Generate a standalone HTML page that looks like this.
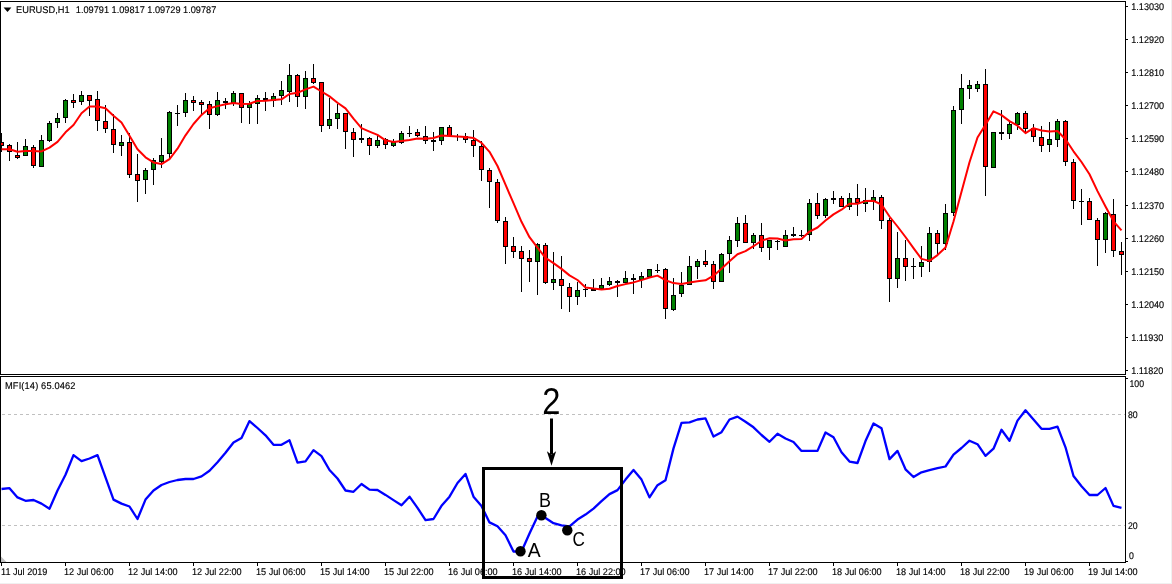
<!DOCTYPE html>
<html><head><meta charset="utf-8"><title>EURUSD H1 MFI</title>
<style>html,body{margin:0;padding:0;background:#fff;}body{width:1172px;height:584px;position:relative;overflow:hidden;}</style>
</head><body>
<svg width="1172" height="584" viewBox="0 0 1172 584" style="position:absolute;left:0;top:0">
<defs><clipPath id="c1"><rect x="1" y="2" width="1124" height="372"/></clipPath><clipPath id="c2"><rect x="1" y="377" width="1124" height="185"/></clipPath></defs>
<g shape-rendering="crispEdges">
<rect x="1171" y="0" width="1" height="584" fill="#f0f0f0"/>
<rect x="0" y="583" width="1172" height="1" fill="#f0f0f0"/>
<line x1="2" y1="414.5" x2="1125" y2="414.5" stroke="#c0c0c0" stroke-width="1" stroke-dasharray="3 3"/>
<line x1="2" y1="525.5" x2="1125" y2="525.5" stroke="#c0c0c0" stroke-width="1" stroke-dasharray="3 3"/>
<g clip-path="url(#c1)">
<rect x="1" y="133" width="1" height="19" fill="#000"/>
<rect x="-1" y="142" width="5" height="4" fill="#000"/>
<rect x="0" y="143" width="3" height="2" fill="#ff0000"/>
<rect x="9" y="144" width="1" height="17" fill="#000"/>
<rect x="7" y="145" width="5" height="7" fill="#000"/>
<rect x="8" y="146" width="3" height="5" fill="#ff0000"/>
<rect x="17" y="142" width="1" height="17" fill="#000"/>
<rect x="15" y="155" width="5" height="3" fill="#000"/>
<rect x="16" y="156" width="3" height="1" fill="#ff0000"/>
<rect x="25" y="139" width="1" height="17" fill="#000"/>
<rect x="23" y="146" width="5" height="10" fill="#000"/>
<rect x="24" y="147" width="3" height="8" fill="#008000"/>
<rect x="33" y="145" width="1" height="23" fill="#000"/>
<rect x="31" y="147" width="5" height="19" fill="#000"/>
<rect x="32" y="148" width="3" height="17" fill="#ff0000"/>
<rect x="41" y="135" width="1" height="32" fill="#000"/>
<rect x="39" y="140" width="5" height="27" fill="#000"/>
<rect x="40" y="141" width="3" height="25" fill="#008000"/>
<rect x="49" y="121" width="1" height="21" fill="#000"/>
<rect x="47" y="123" width="5" height="18" fill="#000"/>
<rect x="48" y="124" width="3" height="16" fill="#008000"/>
<rect x="57" y="113" width="1" height="15" fill="#000"/>
<rect x="55" y="118" width="5" height="5" fill="#000"/>
<rect x="56" y="119" width="3" height="3" fill="#008000"/>
<rect x="65" y="99" width="1" height="24" fill="#000"/>
<rect x="63" y="100" width="5" height="18" fill="#000"/>
<rect x="64" y="101" width="3" height="16" fill="#008000"/>
<rect x="73" y="94" width="1" height="14" fill="#000"/>
<rect x="71" y="100" width="5" height="3" fill="#000"/>
<rect x="72" y="101" width="3" height="1" fill="#ff0000"/>
<rect x="81" y="91" width="1" height="14" fill="#000"/>
<rect x="79" y="95" width="5" height="7" fill="#000"/>
<rect x="80" y="96" width="3" height="5" fill="#008000"/>
<rect x="89" y="95" width="1" height="21" fill="#000"/>
<rect x="87" y="95" width="5" height="6" fill="#000"/>
<rect x="88" y="96" width="3" height="4" fill="#ff0000"/>
<rect x="97" y="91" width="1" height="40" fill="#000"/>
<rect x="95" y="99" width="5" height="22" fill="#000"/>
<rect x="96" y="100" width="3" height="20" fill="#ff0000"/>
<rect x="105" y="105" width="1" height="28" fill="#000"/>
<rect x="103" y="121" width="5" height="8" fill="#000"/>
<rect x="104" y="122" width="3" height="6" fill="#ff0000"/>
<rect x="113" y="114" width="1" height="39" fill="#000"/>
<rect x="111" y="129" width="5" height="16" fill="#000"/>
<rect x="112" y="130" width="3" height="14" fill="#ff0000"/>
<rect x="121" y="135" width="1" height="21" fill="#000"/>
<rect x="119" y="142" width="5" height="4" fill="#000"/>
<rect x="120" y="143" width="3" height="2" fill="#008000"/>
<rect x="129" y="133" width="1" height="45" fill="#000"/>
<rect x="127" y="142" width="5" height="33" fill="#000"/>
<rect x="128" y="143" width="3" height="31" fill="#ff0000"/>
<rect x="137" y="154" width="1" height="48" fill="#000"/>
<rect x="135" y="174" width="5" height="7" fill="#000"/>
<rect x="136" y="175" width="3" height="5" fill="#ff0000"/>
<rect x="145" y="168" width="1" height="26" fill="#000"/>
<rect x="143" y="170" width="5" height="10" fill="#000"/>
<rect x="144" y="171" width="3" height="8" fill="#008000"/>
<rect x="153" y="158" width="1" height="27" fill="#000"/>
<rect x="151" y="160" width="5" height="10" fill="#000"/>
<rect x="152" y="161" width="3" height="8" fill="#008000"/>
<rect x="161" y="138" width="1" height="30" fill="#000"/>
<rect x="159" y="155" width="5" height="7" fill="#000"/>
<rect x="160" y="156" width="3" height="5" fill="#008000"/>
<rect x="169" y="111" width="1" height="47" fill="#000"/>
<rect x="167" y="112" width="5" height="42" fill="#000"/>
<rect x="168" y="113" width="3" height="40" fill="#008000"/>
<rect x="177" y="105" width="1" height="21" fill="#000"/>
<rect x="175" y="113" width="5" height="1" fill="#000"/>
<rect x="185" y="93" width="1" height="24" fill="#000"/>
<rect x="183" y="100" width="5" height="13" fill="#000"/>
<rect x="184" y="101" width="3" height="11" fill="#008000"/>
<rect x="193" y="96" width="1" height="15" fill="#000"/>
<rect x="191" y="100" width="5" height="3" fill="#000"/>
<rect x="192" y="101" width="3" height="1" fill="#ff0000"/>
<rect x="201" y="100" width="1" height="14" fill="#000"/>
<rect x="199" y="102" width="5" height="3" fill="#000"/>
<rect x="200" y="103" width="3" height="1" fill="#ff0000"/>
<rect x="209" y="101" width="1" height="28" fill="#000"/>
<rect x="207" y="104" width="5" height="11" fill="#000"/>
<rect x="208" y="105" width="3" height="9" fill="#ff0000"/>
<rect x="217" y="92" width="1" height="24" fill="#000"/>
<rect x="215" y="100" width="5" height="15" fill="#000"/>
<rect x="216" y="101" width="3" height="13" fill="#008000"/>
<rect x="225" y="98" width="1" height="11" fill="#000"/>
<rect x="223" y="101" width="5" height="2" fill="#000"/>
<rect x="233" y="91" width="1" height="15" fill="#000"/>
<rect x="231" y="93" width="5" height="10" fill="#000"/>
<rect x="232" y="94" width="3" height="8" fill="#008000"/>
<rect x="241" y="93" width="1" height="30" fill="#000"/>
<rect x="239" y="93" width="5" height="15" fill="#000"/>
<rect x="240" y="94" width="3" height="13" fill="#ff0000"/>
<rect x="249" y="101" width="1" height="23" fill="#000"/>
<rect x="247" y="104" width="5" height="4" fill="#000"/>
<rect x="248" y="105" width="3" height="2" fill="#008000"/>
<rect x="257" y="95" width="1" height="29" fill="#000"/>
<rect x="255" y="98" width="5" height="6" fill="#000"/>
<rect x="256" y="99" width="3" height="4" fill="#008000"/>
<rect x="265" y="92" width="1" height="19" fill="#000"/>
<rect x="263" y="98" width="5" height="2" fill="#000"/>
<rect x="273" y="93" width="1" height="14" fill="#000"/>
<rect x="271" y="96" width="5" height="5" fill="#000"/>
<rect x="272" y="97" width="3" height="3" fill="#008000"/>
<rect x="281" y="81" width="1" height="24" fill="#000"/>
<rect x="279" y="90" width="5" height="6" fill="#000"/>
<rect x="280" y="91" width="3" height="4" fill="#008000"/>
<rect x="289" y="64" width="1" height="38" fill="#000"/>
<rect x="287" y="75" width="5" height="17" fill="#000"/>
<rect x="288" y="76" width="3" height="15" fill="#008000"/>
<rect x="297" y="74" width="1" height="33" fill="#000"/>
<rect x="295" y="75" width="5" height="22" fill="#000"/>
<rect x="296" y="76" width="3" height="20" fill="#ff0000"/>
<rect x="305" y="71" width="1" height="38" fill="#000"/>
<rect x="303" y="78" width="5" height="19" fill="#000"/>
<rect x="304" y="79" width="3" height="17" fill="#008000"/>
<rect x="313" y="64" width="1" height="20" fill="#000"/>
<rect x="311" y="78" width="5" height="5" fill="#000"/>
<rect x="312" y="79" width="3" height="3" fill="#ff0000"/>
<rect x="321" y="82" width="1" height="50" fill="#000"/>
<rect x="319" y="82" width="5" height="44" fill="#000"/>
<rect x="320" y="83" width="3" height="42" fill="#ff0000"/>
<rect x="329" y="98" width="1" height="31" fill="#000"/>
<rect x="327" y="119" width="5" height="7" fill="#000"/>
<rect x="328" y="120" width="3" height="5" fill="#008000"/>
<rect x="337" y="104" width="1" height="25" fill="#000"/>
<rect x="335" y="113" width="5" height="6" fill="#000"/>
<rect x="336" y="114" width="3" height="4" fill="#008000"/>
<rect x="345" y="113" width="1" height="36" fill="#000"/>
<rect x="343" y="113" width="5" height="19" fill="#000"/>
<rect x="344" y="114" width="3" height="17" fill="#ff0000"/>
<rect x="353" y="128" width="1" height="29" fill="#000"/>
<rect x="351" y="132" width="5" height="8" fill="#000"/>
<rect x="352" y="133" width="3" height="6" fill="#ff0000"/>
<rect x="361" y="124" width="1" height="19" fill="#000"/>
<rect x="359" y="138" width="5" height="2" fill="#000"/>
<rect x="369" y="137" width="1" height="18" fill="#000"/>
<rect x="367" y="138" width="5" height="8" fill="#000"/>
<rect x="368" y="139" width="3" height="6" fill="#ff0000"/>
<rect x="377" y="136" width="1" height="12" fill="#000"/>
<rect x="375" y="140" width="5" height="6" fill="#000"/>
<rect x="376" y="141" width="3" height="4" fill="#008000"/>
<rect x="385" y="138" width="1" height="11" fill="#000"/>
<rect x="383" y="139" width="5" height="6" fill="#000"/>
<rect x="384" y="140" width="3" height="4" fill="#ff0000"/>
<rect x="393" y="139" width="1" height="8" fill="#000"/>
<rect x="391" y="142" width="5" height="4" fill="#000"/>
<rect x="392" y="143" width="3" height="2" fill="#008000"/>
<rect x="401" y="131" width="1" height="13" fill="#000"/>
<rect x="399" y="133" width="5" height="10" fill="#000"/>
<rect x="400" y="134" width="3" height="8" fill="#008000"/>
<rect x="409" y="126" width="1" height="11" fill="#000"/>
<rect x="407" y="133" width="5" height="1" fill="#000"/>
<rect x="417" y="129" width="1" height="8" fill="#000"/>
<rect x="415" y="132" width="5" height="4" fill="#000"/>
<rect x="416" y="133" width="3" height="2" fill="#ff0000"/>
<rect x="425" y="126" width="1" height="18" fill="#000"/>
<rect x="423" y="136" width="5" height="5" fill="#000"/>
<rect x="424" y="137" width="3" height="3" fill="#ff0000"/>
<rect x="433" y="132" width="1" height="19" fill="#000"/>
<rect x="431" y="140" width="5" height="2" fill="#000"/>
<rect x="441" y="127" width="1" height="18" fill="#000"/>
<rect x="439" y="127" width="5" height="14" fill="#000"/>
<rect x="440" y="128" width="3" height="12" fill="#008000"/>
<rect x="449" y="125" width="1" height="12" fill="#000"/>
<rect x="447" y="127" width="5" height="9" fill="#000"/>
<rect x="448" y="128" width="3" height="7" fill="#ff0000"/>
<rect x="457" y="134" width="1" height="7" fill="#000"/>
<rect x="455" y="136" width="5" height="1" fill="#000"/>
<rect x="465" y="133" width="1" height="10" fill="#000"/>
<rect x="463" y="136" width="5" height="4" fill="#000"/>
<rect x="464" y="137" width="3" height="2" fill="#ff0000"/>
<rect x="473" y="130" width="1" height="27" fill="#000"/>
<rect x="471" y="140" width="5" height="6" fill="#000"/>
<rect x="472" y="141" width="3" height="4" fill="#ff0000"/>
<rect x="481" y="141" width="1" height="40" fill="#000"/>
<rect x="479" y="146" width="5" height="24" fill="#000"/>
<rect x="480" y="147" width="3" height="22" fill="#ff0000"/>
<rect x="489" y="168" width="1" height="40" fill="#000"/>
<rect x="487" y="170" width="5" height="12" fill="#000"/>
<rect x="488" y="171" width="3" height="10" fill="#ff0000"/>
<rect x="497" y="179" width="1" height="44" fill="#000"/>
<rect x="495" y="182" width="5" height="39" fill="#000"/>
<rect x="496" y="183" width="3" height="37" fill="#ff0000"/>
<rect x="505" y="217" width="1" height="47" fill="#000"/>
<rect x="503" y="221" width="5" height="26" fill="#000"/>
<rect x="504" y="222" width="3" height="24" fill="#ff0000"/>
<rect x="513" y="237" width="1" height="21" fill="#000"/>
<rect x="511" y="246" width="5" height="6" fill="#000"/>
<rect x="512" y="247" width="3" height="4" fill="#ff0000"/>
<rect x="521" y="246" width="1" height="46" fill="#000"/>
<rect x="519" y="251" width="5" height="8" fill="#000"/>
<rect x="520" y="252" width="3" height="6" fill="#ff0000"/>
<rect x="529" y="250" width="1" height="32" fill="#000"/>
<rect x="527" y="258" width="5" height="4" fill="#000"/>
<rect x="528" y="259" width="3" height="2" fill="#ff0000"/>
<rect x="537" y="243" width="1" height="52" fill="#000"/>
<rect x="535" y="244" width="5" height="18" fill="#000"/>
<rect x="536" y="245" width="3" height="16" fill="#008000"/>
<rect x="545" y="243" width="1" height="41" fill="#000"/>
<rect x="543" y="245" width="5" height="38" fill="#000"/>
<rect x="544" y="246" width="3" height="36" fill="#ff0000"/>
<rect x="553" y="252" width="1" height="38" fill="#000"/>
<rect x="551" y="279" width="5" height="4" fill="#000"/>
<rect x="552" y="280" width="3" height="2" fill="#008000"/>
<rect x="561" y="256" width="1" height="53" fill="#000"/>
<rect x="559" y="279" width="5" height="7" fill="#000"/>
<rect x="560" y="280" width="3" height="5" fill="#ff0000"/>
<rect x="569" y="283" width="1" height="29" fill="#000"/>
<rect x="567" y="287" width="5" height="10" fill="#000"/>
<rect x="568" y="288" width="3" height="8" fill="#ff0000"/>
<rect x="577" y="282" width="1" height="23" fill="#000"/>
<rect x="575" y="290" width="5" height="7" fill="#000"/>
<rect x="576" y="291" width="3" height="5" fill="#008000"/>
<rect x="585" y="284" width="1" height="13" fill="#000"/>
<rect x="583" y="289" width="5" height="1" fill="#000"/>
<rect x="593" y="279" width="1" height="12" fill="#000"/>
<rect x="591" y="289" width="5" height="2" fill="#000"/>
<rect x="601" y="278" width="1" height="11" fill="#000"/>
<rect x="599" y="285" width="5" height="4" fill="#000"/>
<rect x="600" y="286" width="3" height="2" fill="#008000"/>
<rect x="609" y="277" width="1" height="9" fill="#000"/>
<rect x="607" y="281" width="5" height="4" fill="#000"/>
<rect x="608" y="282" width="3" height="2" fill="#008000"/>
<rect x="617" y="280" width="1" height="17" fill="#000"/>
<rect x="615" y="281" width="5" height="2" fill="#000"/>
<rect x="625" y="271" width="1" height="12" fill="#000"/>
<rect x="623" y="278" width="5" height="5" fill="#000"/>
<rect x="624" y="279" width="3" height="3" fill="#008000"/>
<rect x="633" y="274" width="1" height="20" fill="#000"/>
<rect x="631" y="278" width="5" height="2" fill="#000"/>
<rect x="641" y="272" width="1" height="16" fill="#000"/>
<rect x="639" y="276" width="5" height="4" fill="#000"/>
<rect x="640" y="277" width="3" height="2" fill="#008000"/>
<rect x="649" y="269" width="1" height="8" fill="#000"/>
<rect x="647" y="269" width="5" height="8" fill="#000"/>
<rect x="648" y="270" width="3" height="6" fill="#008000"/>
<rect x="657" y="264" width="1" height="9" fill="#000"/>
<rect x="655" y="270" width="5" height="1" fill="#000"/>
<rect x="665" y="268" width="1" height="51" fill="#000"/>
<rect x="663" y="269" width="5" height="40" fill="#000"/>
<rect x="664" y="270" width="3" height="38" fill="#ff0000"/>
<rect x="673" y="278" width="1" height="33" fill="#000"/>
<rect x="671" y="295" width="5" height="15" fill="#000"/>
<rect x="672" y="296" width="3" height="13" fill="#008000"/>
<rect x="681" y="272" width="1" height="25" fill="#000"/>
<rect x="679" y="285" width="5" height="9" fill="#000"/>
<rect x="680" y="286" width="3" height="7" fill="#008000"/>
<rect x="689" y="256" width="1" height="29" fill="#000"/>
<rect x="687" y="266" width="5" height="19" fill="#000"/>
<rect x="688" y="267" width="3" height="17" fill="#008000"/>
<rect x="697" y="259" width="1" height="20" fill="#000"/>
<rect x="695" y="261" width="5" height="6" fill="#000"/>
<rect x="696" y="262" width="3" height="4" fill="#008000"/>
<rect x="705" y="250" width="1" height="17" fill="#000"/>
<rect x="703" y="261" width="5" height="4" fill="#000"/>
<rect x="704" y="262" width="3" height="2" fill="#ff0000"/>
<rect x="713" y="261" width="1" height="28" fill="#000"/>
<rect x="711" y="264" width="5" height="18" fill="#000"/>
<rect x="712" y="265" width="3" height="16" fill="#ff0000"/>
<rect x="721" y="253" width="1" height="29" fill="#000"/>
<rect x="719" y="254" width="5" height="28" fill="#000"/>
<rect x="720" y="255" width="3" height="26" fill="#008000"/>
<rect x="729" y="236" width="1" height="37" fill="#000"/>
<rect x="727" y="240" width="5" height="14" fill="#000"/>
<rect x="728" y="241" width="3" height="12" fill="#008000"/>
<rect x="737" y="217" width="1" height="30" fill="#000"/>
<rect x="735" y="223" width="5" height="18" fill="#000"/>
<rect x="736" y="224" width="3" height="16" fill="#008000"/>
<rect x="745" y="215" width="1" height="28" fill="#000"/>
<rect x="743" y="223" width="5" height="20" fill="#000"/>
<rect x="744" y="224" width="3" height="18" fill="#ff0000"/>
<rect x="753" y="233" width="1" height="16" fill="#000"/>
<rect x="751" y="235" width="5" height="8" fill="#000"/>
<rect x="752" y="236" width="3" height="6" fill="#008000"/>
<rect x="761" y="223" width="1" height="29" fill="#000"/>
<rect x="759" y="235" width="5" height="13" fill="#000"/>
<rect x="760" y="236" width="3" height="11" fill="#ff0000"/>
<rect x="769" y="240" width="1" height="20" fill="#000"/>
<rect x="767" y="240" width="5" height="8" fill="#000"/>
<rect x="768" y="241" width="3" height="6" fill="#008000"/>
<rect x="777" y="240" width="1" height="10" fill="#000"/>
<rect x="775" y="241" width="5" height="1" fill="#000"/>
<rect x="785" y="230" width="1" height="17" fill="#000"/>
<rect x="783" y="235" width="5" height="12" fill="#000"/>
<rect x="784" y="236" width="3" height="10" fill="#008000"/>
<rect x="793" y="227" width="1" height="10" fill="#000"/>
<rect x="791" y="234" width="5" height="2" fill="#000"/>
<rect x="801" y="230" width="1" height="7" fill="#000"/>
<rect x="799" y="235" width="5" height="1" fill="#000"/>
<rect x="809" y="199" width="1" height="42" fill="#000"/>
<rect x="807" y="203" width="5" height="32" fill="#000"/>
<rect x="808" y="204" width="3" height="30" fill="#008000"/>
<rect x="817" y="193" width="1" height="26" fill="#000"/>
<rect x="815" y="203" width="5" height="13" fill="#000"/>
<rect x="816" y="204" width="3" height="11" fill="#ff0000"/>
<rect x="825" y="198" width="1" height="20" fill="#000"/>
<rect x="823" y="199" width="5" height="17" fill="#000"/>
<rect x="824" y="200" width="3" height="15" fill="#008000"/>
<rect x="833" y="191" width="1" height="13" fill="#000"/>
<rect x="831" y="198" width="5" height="2" fill="#000"/>
<rect x="841" y="196" width="1" height="11" fill="#000"/>
<rect x="839" y="198" width="5" height="9" fill="#000"/>
<rect x="840" y="199" width="3" height="7" fill="#ff0000"/>
<rect x="849" y="193" width="1" height="17" fill="#000"/>
<rect x="847" y="198" width="5" height="9" fill="#000"/>
<rect x="848" y="199" width="3" height="7" fill="#008000"/>
<rect x="857" y="184" width="1" height="32" fill="#000"/>
<rect x="855" y="198" width="5" height="5" fill="#000"/>
<rect x="856" y="199" width="3" height="3" fill="#ff0000"/>
<rect x="865" y="188" width="1" height="24" fill="#000"/>
<rect x="863" y="200" width="5" height="4" fill="#000"/>
<rect x="864" y="201" width="3" height="2" fill="#008000"/>
<rect x="873" y="190" width="1" height="20" fill="#000"/>
<rect x="871" y="197" width="5" height="4" fill="#000"/>
<rect x="872" y="198" width="3" height="2" fill="#008000"/>
<rect x="881" y="195" width="1" height="34" fill="#000"/>
<rect x="879" y="197" width="5" height="24" fill="#000"/>
<rect x="880" y="198" width="3" height="22" fill="#ff0000"/>
<rect x="889" y="218" width="1" height="84" fill="#000"/>
<rect x="887" y="220" width="5" height="59" fill="#000"/>
<rect x="888" y="221" width="3" height="57" fill="#ff0000"/>
<rect x="897" y="232" width="1" height="56" fill="#000"/>
<rect x="895" y="258" width="5" height="21" fill="#000"/>
<rect x="896" y="259" width="3" height="19" fill="#008000"/>
<rect x="905" y="240" width="1" height="41" fill="#000"/>
<rect x="903" y="258" width="5" height="9" fill="#000"/>
<rect x="904" y="259" width="3" height="7" fill="#ff0000"/>
<rect x="913" y="258" width="1" height="21" fill="#000"/>
<rect x="911" y="266" width="5" height="1" fill="#000"/>
<rect x="921" y="246" width="1" height="31" fill="#000"/>
<rect x="919" y="262" width="5" height="5" fill="#000"/>
<rect x="920" y="263" width="3" height="3" fill="#008000"/>
<rect x="929" y="227" width="1" height="45" fill="#000"/>
<rect x="927" y="233" width="5" height="29" fill="#000"/>
<rect x="928" y="234" width="3" height="27" fill="#008000"/>
<rect x="937" y="230" width="1" height="25" fill="#000"/>
<rect x="935" y="233" width="5" height="11" fill="#000"/>
<rect x="936" y="234" width="3" height="9" fill="#ff0000"/>
<rect x="945" y="204" width="1" height="46" fill="#000"/>
<rect x="943" y="213" width="5" height="31" fill="#000"/>
<rect x="944" y="214" width="3" height="29" fill="#008000"/>
<rect x="953" y="106" width="1" height="110" fill="#000"/>
<rect x="951" y="110" width="5" height="103" fill="#000"/>
<rect x="952" y="111" width="3" height="101" fill="#008000"/>
<rect x="961" y="74" width="1" height="50" fill="#000"/>
<rect x="959" y="88" width="5" height="22" fill="#000"/>
<rect x="960" y="89" width="3" height="20" fill="#008000"/>
<rect x="969" y="80" width="1" height="19" fill="#000"/>
<rect x="967" y="85" width="5" height="4" fill="#000"/>
<rect x="968" y="86" width="3" height="2" fill="#008000"/>
<rect x="977" y="81" width="1" height="11" fill="#000"/>
<rect x="975" y="84" width="5" height="5" fill="#000"/>
<rect x="976" y="85" width="3" height="3" fill="#008000"/>
<rect x="985" y="69" width="1" height="127" fill="#000"/>
<rect x="983" y="84" width="5" height="83" fill="#000"/>
<rect x="984" y="85" width="3" height="81" fill="#ff0000"/>
<rect x="993" y="132" width="1" height="36" fill="#000"/>
<rect x="991" y="132" width="5" height="36" fill="#000"/>
<rect x="992" y="133" width="3" height="34" fill="#008000"/>
<rect x="1001" y="110" width="1" height="30" fill="#000"/>
<rect x="999" y="132" width="5" height="2" fill="#000"/>
<rect x="1009" y="122" width="1" height="17" fill="#000"/>
<rect x="1007" y="124" width="5" height="10" fill="#000"/>
<rect x="1008" y="125" width="3" height="8" fill="#008000"/>
<rect x="1017" y="112" width="1" height="18" fill="#000"/>
<rect x="1015" y="113" width="5" height="12" fill="#000"/>
<rect x="1016" y="114" width="3" height="10" fill="#008000"/>
<rect x="1025" y="111" width="1" height="21" fill="#000"/>
<rect x="1023" y="113" width="5" height="16" fill="#000"/>
<rect x="1024" y="114" width="3" height="14" fill="#ff0000"/>
<rect x="1033" y="124" width="1" height="18" fill="#000"/>
<rect x="1031" y="128" width="5" height="9" fill="#000"/>
<rect x="1032" y="129" width="3" height="7" fill="#ff0000"/>
<rect x="1041" y="126" width="1" height="26" fill="#000"/>
<rect x="1039" y="137" width="5" height="9" fill="#000"/>
<rect x="1040" y="138" width="3" height="7" fill="#ff0000"/>
<rect x="1049" y="122" width="1" height="30" fill="#000"/>
<rect x="1047" y="139" width="5" height="6" fill="#000"/>
<rect x="1048" y="140" width="3" height="4" fill="#008000"/>
<rect x="1057" y="119" width="1" height="28" fill="#000"/>
<rect x="1055" y="121" width="5" height="19" fill="#000"/>
<rect x="1056" y="122" width="3" height="17" fill="#008000"/>
<rect x="1065" y="120" width="1" height="46" fill="#000"/>
<rect x="1063" y="121" width="5" height="41" fill="#000"/>
<rect x="1064" y="122" width="3" height="39" fill="#ff0000"/>
<rect x="1073" y="159" width="1" height="50" fill="#000"/>
<rect x="1071" y="162" width="5" height="39" fill="#000"/>
<rect x="1072" y="163" width="3" height="37" fill="#ff0000"/>
<rect x="1081" y="189" width="1" height="36" fill="#000"/>
<rect x="1079" y="201" width="5" height="1" fill="#000"/>
<rect x="1089" y="198" width="1" height="22" fill="#000"/>
<rect x="1087" y="201" width="5" height="19" fill="#000"/>
<rect x="1088" y="202" width="3" height="17" fill="#ff0000"/>
<rect x="1097" y="218" width="1" height="48" fill="#000"/>
<rect x="1095" y="220" width="5" height="20" fill="#000"/>
<rect x="1096" y="221" width="3" height="18" fill="#ff0000"/>
<rect x="1105" y="212" width="1" height="41" fill="#000"/>
<rect x="1103" y="213" width="5" height="27" fill="#000"/>
<rect x="1104" y="214" width="3" height="25" fill="#008000"/>
<rect x="1113" y="199" width="1" height="58" fill="#000"/>
<rect x="1111" y="214" width="5" height="37" fill="#000"/>
<rect x="1112" y="215" width="3" height="35" fill="#ff0000"/>
<rect x="1121" y="242" width="1" height="33" fill="#000"/>
<rect x="1119" y="251" width="5" height="4" fill="#000"/>
<rect x="1120" y="252" width="3" height="2" fill="#ff0000"/>
</g>
</g>
<polyline clip-path="url(#c1)" points="1.5,149.2 9.5,149.2 17.5,151.8 25.5,151.0 33.5,151.0 41.5,151.4 49.5,147.6 57.5,141.9 65.5,132.3 73.5,125.0 81.5,113.2 89.5,106.6 97.5,106.4 105.5,108.2 113.5,115.7 121.5,122.5 129.5,135.8 137.5,149.2 145.5,157.3 153.5,162.4 161.5,164.1 169.5,159.1 177.5,148.7 185.5,135.3 193.5,124.0 201.5,114.9 209.5,108.2 217.5,106.1 225.5,104.2 233.5,103.1 241.5,103.9 249.5,103.7 257.5,100.9 265.5,100.8 273.5,99.9 281.5,99.3 289.5,94.0 297.5,92.8 305.5,89.4 313.5,86.6 321.5,91.5 329.5,96.4 337.5,102.7 345.5,108.4 353.5,118.7 361.5,128.1 369.5,131.6 377.5,134.9 385.5,140.3 393.5,142.1 401.5,141.0 409.5,140.1 417.5,138.5 425.5,138.8 433.5,138.0 441.5,135.5 449.5,136.0 457.5,136.4 465.5,137.0 473.5,137.9 481.5,142.8 489.5,151.8 497.5,166.0 505.5,184.7 513.5,203.2 521.5,221.8 529.5,237.2 537.5,247.7 545.5,257.8 553.5,263.1 561.5,268.9 569.5,275.4 577.5,280.0 585.5,287.4 593.5,288.6 601.5,289.5 609.5,288.7 617.5,286.0 625.5,284.1 633.5,282.4 641.5,280.1 649.5,277.5 657.5,275.6 665.5,280.2 673.5,283.1 681.5,284.1 689.5,282.5 697.5,281.2 705.5,280.3 713.5,275.7 721.5,268.8 729.5,261.3 737.5,254.2 745.5,251.1 753.5,246.2 761.5,240.7 769.5,238.3 777.5,238.5 785.5,240.5 793.5,239.2 801.5,239.1 809.5,231.6 817.5,227.5 825.5,220.5 833.5,214.4 841.5,209.7 849.5,203.7 857.5,203.7 865.5,201.1 873.5,200.8 881.5,204.5 889.5,216.5 897.5,226.5 905.5,237.0 913.5,248.1 921.5,258.9 929.5,260.9 937.5,255.1 945.5,247.6 953.5,221.5 961.5,191.8 969.5,162.3 977.5,137.5 985.5,124.8 993.5,111.3 1001.5,115.1 1009.5,121.1 1017.5,125.7 1025.5,133.1 1033.5,128.1 1041.5,130.5 1049.5,131.5 1057.5,131.0 1065.5,139.2 1073.5,151.3 1081.5,162.0 1089.5,174.2 1097.5,191.1 1105.5,206.5 1113.5,221.3 1121.5,230.3" fill="none" stroke="#ff0000" stroke-width="2" stroke-linejoin="round"/>
<polyline clip-path="url(#c2)" points="1.5,489.0 9.5,488.2 17.5,497.4 25.5,500.8 33.5,500.0 41.5,503.6 49.5,508.7 57.5,490.5 65.5,474.8 73.5,455.1 81.5,461.1 89.5,458.5 97.5,455.1 105.5,477.4 113.5,499.6 121.5,503.6 129.5,506.5 137.5,519.0 145.5,499.6 153.5,490.5 161.5,485.0 169.5,482.0 177.5,480.0 185.5,479.0 193.5,479.0 201.5,476.4 209.5,470.8 217.5,462.2 225.5,452.8 233.5,442.5 241.5,437.9 249.5,421.1 257.5,428.0 265.5,435.3 273.5,444.8 281.5,444.8 289.5,440.3 297.5,462.7 305.5,461.4 313.5,450.2 321.5,456.2 329.5,470.0 337.5,478.5 345.5,490.5 353.5,491.8 361.5,484.0 369.5,489.6 377.5,490.0 385.5,494.9 393.5,500.1 401.5,505.2 409.5,496.7 417.5,507.8 425.5,520.1 433.5,519.0 441.5,505.8 449.5,496.7 457.5,483.0 465.5,473.9 473.5,496.7 481.5,506.1 489.5,522.4 497.5,526.3 505.5,535.2 513.5,551.5 521.5,551.5 529.5,533.5 537.5,516.4 545.5,518.0 553.5,523.2 561.5,525.3 569.5,526.3 577.5,519.6 585.5,514.6 593.5,508.6 601.5,501.2 609.5,494.1 617.5,490.1 625.5,479.6 633.5,470.0 641.5,479.6 649.5,497.4 657.5,485.2 665.5,480.3 673.5,448.4 681.5,422.8 689.5,422.4 697.5,419.5 705.5,418.4 713.5,436.6 721.5,432.2 729.5,419.5 737.5,416.6 745.5,421.7 753.5,427.3 761.5,435.0 769.5,441.8 777.5,433.7 785.5,438.5 793.5,442.0 801.5,450.9 809.5,450.9 817.5,450.9 825.5,432.5 833.5,437.3 841.5,452.2 849.5,461.6 857.5,463.0 865.5,441.1 873.5,423.5 881.5,428.3 889.5,459.1 897.5,450.9 905.5,469.3 913.5,477.0 921.5,472.3 929.5,470.2 937.5,468.2 945.5,466.5 953.5,454.6 961.5,448.0 969.5,440.7 977.5,444.2 985.5,455.9 993.5,448.7 1001.5,429.8 1009.5,440.7 1017.5,420.6 1025.5,410.3 1033.5,419.5 1041.5,428.8 1049.5,428.8 1057.5,426.7 1065.5,447.3 1073.5,476.0 1081.5,486.3 1089.5,495.0 1097.5,495.0 1105.5,488.0 1113.5,505.9 1121.5,507.9" fill="none" stroke="#0000ff" stroke-width="2.3" stroke-linejoin="round"/>
<g shape-rendering="crispEdges" fill="#000">
<rect x="0" y="1" width="1126" height="1"/>
<rect x="0" y="1" width="1" height="562"/>
<rect x="1125" y="1" width="1" height="562"/>
<rect x="0" y="374" width="1126" height="1"/>
<rect x="0" y="375" width="1126" height="1" fill="#fff"/>
<rect x="0" y="376" width="1126" height="1"/>
<rect x="0" y="562" width="1126" height="1"/>
<rect x="1126" y="6" width="2" height="1"/>
<rect x="1126" y="39" width="2" height="1"/>
<rect x="1126" y="72" width="2" height="1"/>
<rect x="1126" y="105" width="2" height="1"/>
<rect x="1126" y="138" width="2" height="1"/>
<rect x="1126" y="171" width="2" height="1"/>
<rect x="1126" y="205" width="2" height="1"/>
<rect x="1126" y="238" width="2" height="1"/>
<rect x="1126" y="271" width="2" height="1"/>
<rect x="1126" y="304" width="2" height="1"/>
<rect x="1126" y="337" width="2" height="1"/>
<rect x="1126" y="370" width="2" height="1"/>
<rect x="1126" y="378" width="2" height="1"/>
<rect x="1126" y="561" width="2" height="1"/>
<rect x="1" y="563" width="1" height="3"/>
<rect x="65" y="563" width="1" height="3"/>
<rect x="129" y="563" width="1" height="3"/>
<rect x="193" y="563" width="1" height="3"/>
<rect x="257" y="563" width="1" height="3"/>
<rect x="321" y="563" width="1" height="3"/>
<rect x="385" y="563" width="1" height="3"/>
<rect x="449" y="563" width="1" height="3"/>
<rect x="513" y="563" width="1" height="3"/>
<rect x="577" y="563" width="1" height="3"/>
<rect x="641" y="563" width="1" height="3"/>
<rect x="705" y="563" width="1" height="3"/>
<rect x="769" y="563" width="1" height="3"/>
<rect x="833" y="563" width="1" height="3"/>
<rect x="897" y="563" width="1" height="3"/>
<rect x="961" y="563" width="1" height="3"/>
<rect x="1025" y="563" width="1" height="3"/>
<rect x="1089" y="563" width="1" height="3"/>
</g>
<polygon points="1,556.5 1,562 6.5,562" fill="#c0c0c0"/>
<polygon points="3.6,7.6 11.4,7.6 7.5,12" fill="#000"/>
<rect x="483.5" y="468.5" width="138" height="109" fill="none" stroke="#000" stroke-width="3" shape-rendering="crispEdges"/>
<circle cx="520.5" cy="551.3" r="5.2" fill="#000"/>
<circle cx="541.4" cy="515.3" r="5.2" fill="#000"/>
<circle cx="567.3" cy="530.2" r="5.2" fill="#000"/>
<rect x="550" y="418.5" width="3" height="36" fill="#000"/>
<polygon points="551.5,465.8 546.9,451.3 551.5,454.8 556.1,451.3" fill="#000"/>
<text transform="translate(16,13) scale(0.957,1)" font-size="9.7" font-family="'Liberation Sans', sans-serif" fill="#000" stroke="#000" stroke-width="0.14" text-rendering="geometricPrecision"  xml:space="preserve">EURUSD,H1</text>
<text transform="translate(75.8,13) scale(0.948,1)" font-size="9.7" font-family="'Liberation Sans', sans-serif" fill="#000" stroke="#000" stroke-width="0.14" text-rendering="geometricPrecision"  xml:space="preserve">1.09791 1.09817 1.09729 1.09787</text>
<text transform="translate(5,389) scale(0.957,1)" font-size="9.7" font-family="'Liberation Sans', sans-serif" fill="#000" stroke="#000" stroke-width="0.14" text-rendering="geometricPrecision" letter-spacing="0.14" xml:space="preserve">MFI(14) 65.0462</text>
<text transform="translate(1131.3,10) scale(0.934,1)" font-size="9.7" font-family="'Liberation Sans', sans-serif" fill="#000" stroke="#000" stroke-width="0.14" text-rendering="geometricPrecision"  xml:space="preserve">1.13030</text>
<text transform="translate(1131.3,43) scale(0.934,1)" font-size="9.7" font-family="'Liberation Sans', sans-serif" fill="#000" stroke="#000" stroke-width="0.14" text-rendering="geometricPrecision"  xml:space="preserve">1.12920</text>
<text transform="translate(1131.3,76) scale(0.934,1)" font-size="9.7" font-family="'Liberation Sans', sans-serif" fill="#000" stroke="#000" stroke-width="0.14" text-rendering="geometricPrecision"  xml:space="preserve">1.12810</text>
<text transform="translate(1131.3,109) scale(0.934,1)" font-size="9.7" font-family="'Liberation Sans', sans-serif" fill="#000" stroke="#000" stroke-width="0.14" text-rendering="geometricPrecision"  xml:space="preserve">1.12700</text>
<text transform="translate(1131.3,142) scale(0.934,1)" font-size="9.7" font-family="'Liberation Sans', sans-serif" fill="#000" stroke="#000" stroke-width="0.14" text-rendering="geometricPrecision"  xml:space="preserve">1.12590</text>
<text transform="translate(1131.3,175) scale(0.934,1)" font-size="9.7" font-family="'Liberation Sans', sans-serif" fill="#000" stroke="#000" stroke-width="0.14" text-rendering="geometricPrecision"  xml:space="preserve">1.12480</text>
<text transform="translate(1131.3,209) scale(0.934,1)" font-size="9.7" font-family="'Liberation Sans', sans-serif" fill="#000" stroke="#000" stroke-width="0.14" text-rendering="geometricPrecision"  xml:space="preserve">1.12370</text>
<text transform="translate(1131.3,242) scale(0.934,1)" font-size="9.7" font-family="'Liberation Sans', sans-serif" fill="#000" stroke="#000" stroke-width="0.14" text-rendering="geometricPrecision"  xml:space="preserve">1.12260</text>
<text transform="translate(1131.3,275) scale(0.934,1)" font-size="9.7" font-family="'Liberation Sans', sans-serif" fill="#000" stroke="#000" stroke-width="0.14" text-rendering="geometricPrecision"  xml:space="preserve">1.12150</text>
<text transform="translate(1131.3,308) scale(0.934,1)" font-size="9.7" font-family="'Liberation Sans', sans-serif" fill="#000" stroke="#000" stroke-width="0.14" text-rendering="geometricPrecision"  xml:space="preserve">1.12040</text>
<text transform="translate(1131.3,341) scale(0.934,1)" font-size="9.7" font-family="'Liberation Sans', sans-serif" fill="#000" stroke="#000" stroke-width="0.14" text-rendering="geometricPrecision"  xml:space="preserve">1.11930</text>
<text transform="translate(1131.3,374) scale(0.934,1)" font-size="9.7" font-family="'Liberation Sans', sans-serif" fill="#000" stroke="#000" stroke-width="0.14" text-rendering="geometricPrecision"  xml:space="preserve">1.11820</text>
<text transform="translate(1129.5,387) scale(0.9,1)" font-size="9.7" font-family="'Liberation Sans', sans-serif" fill="#000" stroke="#000" stroke-width="0.14" text-rendering="geometricPrecision"  xml:space="preserve">100</text>
<text transform="translate(1128,418) scale(0.9,1)" font-size="9.7" font-family="'Liberation Sans', sans-serif" fill="#000" stroke="#000" stroke-width="0.14" text-rendering="geometricPrecision"  xml:space="preserve">80</text>
<text transform="translate(1128,529) scale(0.9,1)" font-size="9.7" font-family="'Liberation Sans', sans-serif" fill="#000" stroke="#000" stroke-width="0.14" text-rendering="geometricPrecision"  xml:space="preserve">20</text>
<text transform="translate(1129,559) scale(0.9,1)" font-size="9.7" font-family="'Liberation Sans', sans-serif" fill="#000" stroke="#000" stroke-width="0.14" text-rendering="geometricPrecision"  xml:space="preserve">0</text>
<text transform="translate(1,575) scale(0.94,1)" font-size="9.7" font-family="'Liberation Sans', sans-serif" fill="#000" stroke="#000" stroke-width="0.14" text-rendering="geometricPrecision"  xml:space="preserve">11 Jul 2019</text>
<text transform="translate(64,575) scale(0.94,1)" font-size="9.7" font-family="'Liberation Sans', sans-serif" fill="#000" stroke="#000" stroke-width="0.14" text-rendering="geometricPrecision"  xml:space="preserve">12 Jul 06:00</text>
<text transform="translate(128,575) scale(0.94,1)" font-size="9.7" font-family="'Liberation Sans', sans-serif" fill="#000" stroke="#000" stroke-width="0.14" text-rendering="geometricPrecision"  xml:space="preserve">12 Jul 14:00</text>
<text transform="translate(192,575) scale(0.94,1)" font-size="9.7" font-family="'Liberation Sans', sans-serif" fill="#000" stroke="#000" stroke-width="0.14" text-rendering="geometricPrecision"  xml:space="preserve">12 Jul 22:00</text>
<text transform="translate(256,575) scale(0.94,1)" font-size="9.7" font-family="'Liberation Sans', sans-serif" fill="#000" stroke="#000" stroke-width="0.14" text-rendering="geometricPrecision"  xml:space="preserve">15 Jul 06:00</text>
<text transform="translate(320,575) scale(0.94,1)" font-size="9.7" font-family="'Liberation Sans', sans-serif" fill="#000" stroke="#000" stroke-width="0.14" text-rendering="geometricPrecision"  xml:space="preserve">15 Jul 14:00</text>
<text transform="translate(384,575) scale(0.94,1)" font-size="9.7" font-family="'Liberation Sans', sans-serif" fill="#000" stroke="#000" stroke-width="0.14" text-rendering="geometricPrecision"  xml:space="preserve">15 Jul 22:00</text>
<text transform="translate(448,575) scale(0.94,1)" font-size="9.7" font-family="'Liberation Sans', sans-serif" fill="#000" stroke="#000" stroke-width="0.14" text-rendering="geometricPrecision"  xml:space="preserve">16 Jul 06:00</text>
<text transform="translate(512,575) scale(0.94,1)" font-size="9.7" font-family="'Liberation Sans', sans-serif" fill="#000" stroke="#000" stroke-width="0.14" text-rendering="geometricPrecision"  xml:space="preserve">16 Jul 14:00</text>
<text transform="translate(576,575) scale(0.94,1)" font-size="9.7" font-family="'Liberation Sans', sans-serif" fill="#000" stroke="#000" stroke-width="0.14" text-rendering="geometricPrecision"  xml:space="preserve">16 Jul 22:00</text>
<text transform="translate(640,575) scale(0.94,1)" font-size="9.7" font-family="'Liberation Sans', sans-serif" fill="#000" stroke="#000" stroke-width="0.14" text-rendering="geometricPrecision"  xml:space="preserve">17 Jul 06:00</text>
<text transform="translate(704,575) scale(0.94,1)" font-size="9.7" font-family="'Liberation Sans', sans-serif" fill="#000" stroke="#000" stroke-width="0.14" text-rendering="geometricPrecision"  xml:space="preserve">17 Jul 14:00</text>
<text transform="translate(768,575) scale(0.94,1)" font-size="9.7" font-family="'Liberation Sans', sans-serif" fill="#000" stroke="#000" stroke-width="0.14" text-rendering="geometricPrecision"  xml:space="preserve">17 Jul 22:00</text>
<text transform="translate(832,575) scale(0.94,1)" font-size="9.7" font-family="'Liberation Sans', sans-serif" fill="#000" stroke="#000" stroke-width="0.14" text-rendering="geometricPrecision"  xml:space="preserve">18 Jul 06:00</text>
<text transform="translate(896,575) scale(0.94,1)" font-size="9.7" font-family="'Liberation Sans', sans-serif" fill="#000" stroke="#000" stroke-width="0.14" text-rendering="geometricPrecision"  xml:space="preserve">18 Jul 14:00</text>
<text transform="translate(960,575) scale(0.94,1)" font-size="9.7" font-family="'Liberation Sans', sans-serif" fill="#000" stroke="#000" stroke-width="0.14" text-rendering="geometricPrecision"  xml:space="preserve">18 Jul 22:00</text>
<text transform="translate(1024,575) scale(0.94,1)" font-size="9.7" font-family="'Liberation Sans', sans-serif" fill="#000" stroke="#000" stroke-width="0.14" text-rendering="geometricPrecision"  xml:space="preserve">19 Jul 06:00</text>
<text transform="translate(1088,575) scale(0.94,1)" font-size="9.7" font-family="'Liberation Sans', sans-serif" fill="#000" stroke="#000" stroke-width="0.14" text-rendering="geometricPrecision"  xml:space="preserve">19 Jul 14:00</text>
<text transform="translate(527.7,557.4) scale(0.95,1)" font-size="20.4" font-family="'Liberation Sans', sans-serif" fill="#000"  xml:space="preserve">A</text>
<text transform="translate(539,507.2) scale(0.93,1)" font-size="19.3" font-family="'Liberation Sans', sans-serif" fill="#000"  xml:space="preserve">B</text>
<text transform="translate(572.5,546) scale(0.86,1)" font-size="20" font-family="'Liberation Sans', sans-serif" fill="#000"  xml:space="preserve">C</text>
<text transform="translate(542.3,413.6) scale(0.9,1)" font-size="36.3" font-family="'Liberation Sans', sans-serif" fill="#000"  xml:space="preserve">2</text>
</svg>
</body></html>
